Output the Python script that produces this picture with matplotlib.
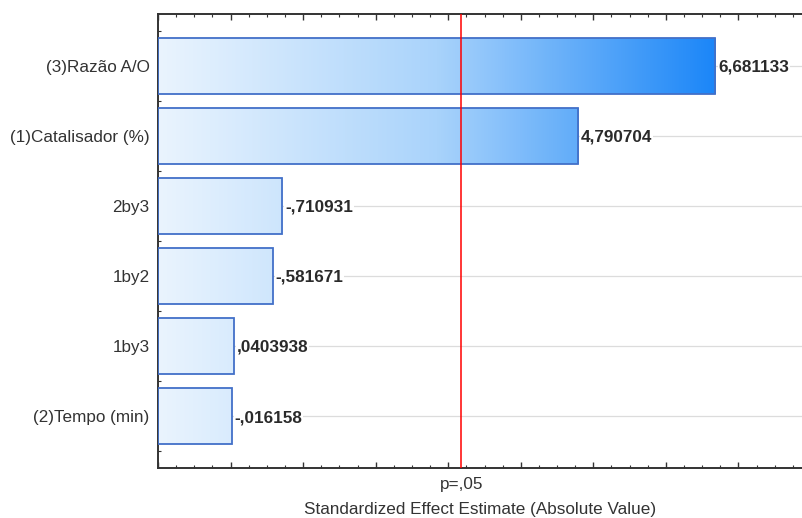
import numpy as np
import matplotlib
matplotlib.use('Agg')
import matplotlib.pyplot as plt
from matplotlib.colors import LinearSegmentedColormap
from matplotlib.ticker import MultipleLocator

## effect names and standardized effect estimates (t values)
effects = ['(3)Razão A/O', '(1)Catalisador (%)', '2by3', '1by2', '1by3', '(2)Tempo (min)']
estimates = [6.681133, 4.790704, -0.710931, -0.581671, 0.0403938, -0.016158]
p_crit = 3.182446   ## t critical value for p=.05
p_label = 'p=,05'

def fmt_value(v):
    ''' format like the stats package: comma decimals, no leading zero '''
    s = str(abs(v))
    if s.startswith('0.'):
        s = s[1:]
    s = s.replace('.', ',')
    return ('-' if v < 0 else '') + s

plt.rcParams['font.family'] = ['Liberation Sans', 'DejaVu Sans']
text_col = '#333333'
fsize = 12.3

fig = plt.figure(figsize=(8.03, 5.18), dpi=100)
ax = fig.add_axes([0.1968, 0.0965, 0.8032, 0.8765])

x_min, x_max = -1.0, 7.89
ypos = np.arange(len(effects))
bar_h = 0.79

## horizontal grid at category centres
for y in ypos:
    ax.axhline(y, color='#dcdcdc', linewidth=0.9, zorder=0)

## bars with a left-to-right blue gradient shared across all bars
cmap = LinearSegmentedColormap.from_list('blues', ['#eaf4fe', '#a9d3fb', '#1b86f8'])
grad = np.linspace(0, 1, 256).reshape(1, -1)
g_right = max(abs(v) for v in estimates)
for y, v in zip(ypos, estimates):
    bar = ax.barh(y, abs(v), left=0, height=bar_h, color='none',
                  edgecolor='#4270c8', linewidth=1.3, zorder=3)[0]
    # bars start at the left edge of the axis (-1)
    bar.set_x(x_min)
    bar.set_width(abs(v) - x_min)
    im = ax.imshow(grad, cmap=cmap, aspect='auto', zorder=2,
                   extent=(x_min, g_right, y + bar_h / 2, y - bar_h / 2))
    im.set_clip_path(bar)
    ax.text(abs(v) + 0.04, y + 0.02, fmt_value(v), ha='left', va='center',
            fontsize=fsize, fontweight='bold', color='#2a2a2a', zorder=4,
            bbox=dict(fc='white', ec='none', pad=0.5))

## critical value line
ax.axvline(p_crit, color='#ff0000', linewidth=1.1, zorder=5)
ax.text(p_crit, -0.02, p_label, transform=ax.get_xaxis_transform(),
        ha='center', va='top', fontsize=fsize, color=text_col)

ax.set_xlim(x_min, x_max)
ax.set_ylim(len(effects) - 1 + 0.74, -0.74)
ax.set_yticks(ypos)
ax.set_yticklabels(effects, fontsize=fsize, color=text_col)
ax.xaxis.set_major_locator(MultipleLocator(1))
ax.xaxis.set_minor_locator(MultipleLocator(0.25))
ax.yaxis.set_minor_locator(MultipleLocator(0.25))
ax.tick_params(axis='x', which='both', direction='in', top=True, bottom=True,
               labelbottom=False, color='#333333')
ax.tick_params(axis='y', which='both', direction='in', left=True, right=False,
               color='#333333', pad=6)
ax.tick_params(which='major', length=4, width=1)
ax.tick_params(which='minor', length=2, width=0.8)
ax.set_xlabel('Standardized Effect Estimate (Absolute Value)', fontsize=fsize,
              color=text_col)
ax.xaxis.set_label_coords(0.5, -0.075)

for side in ['left', 'top', 'bottom']:
    ax.spines[side].set_color('#333333')
    ax.spines[side].set_linewidth(1.4)
ax.spines['right'].set_visible(False)

plt.savefig('out.png', dpi=100)
